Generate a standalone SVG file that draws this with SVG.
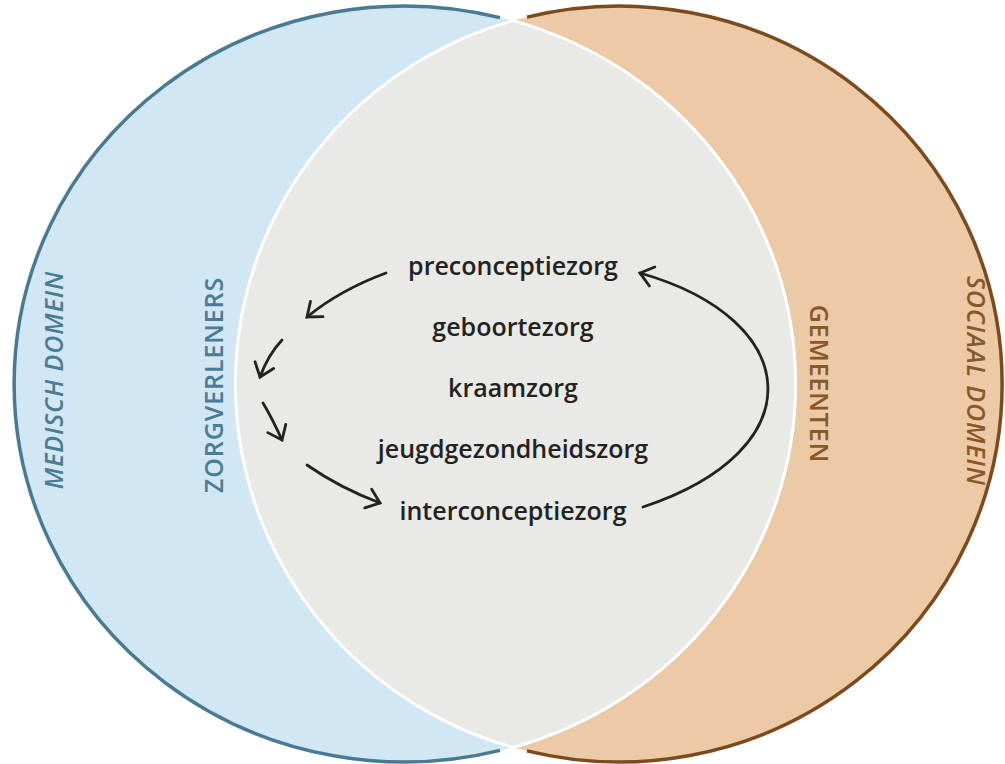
<svg xmlns="http://www.w3.org/2000/svg" width="1005" height="764" viewBox="0 0 1005 764">
<defs>
<style>
.lbl{font-family:"Open Sans","Liberation Sans",sans-serif;font-size:25px;font-weight:600;text-anchor:middle;letter-spacing:0.9px}
.blue{fill:#4a7c95}
.brown{fill:#87582a}
.it{font-style:italic}
.item{font-family:"Open Sans","Liberation Sans",sans-serif;font-size:25px;font-weight:600;fill:#222;text-anchor:middle}
.arr{fill:none;stroke:#222;stroke-width:2.8;stroke-linecap:round;marker-end:url(#ah)}
</style>
<marker id="ah" markerUnits="userSpaceOnUse" viewBox="-16 -12 20 24" markerWidth="20" markerHeight="24" refX="0" refY="0" orient="auto">
<path d="M-12.6,-9.9 L0,0 L-12.6,9.9" fill="none" stroke="#222" stroke-width="2.8" stroke-linecap="round" stroke-linejoin="miter"/>
</marker>
</defs>
<rect width="1005" height="764" fill="#ffffff"/>
<g id="medisch">
<ellipse cx="404" cy="384" rx="390" ry="378" fill="#d1e7f4"/>
<path d="M500,17.6 A390,378 0 1 0 500,750.4" fill="none" stroke="#487a92" stroke-width="3.5"/>
</g>
<g id="sociaal">
<ellipse cx="619" cy="384" rx="383" ry="378" fill="#ebcaa5"/>
<path d="M527,17.1 A383,378 0 1 1 527,750.9" fill="none" stroke="#7b4b1f" stroke-width="3.5"/>
</g>
<g id="overlap">
<path d="M513,20.6 A383,378 0 0 0 513,747.4 A390,378 0 0 0 513,20.6 Z" fill="#e9e9e5" stroke="#ffffff" stroke-width="3"/>
</g>
<g id="labels">
<text class="lbl blue it" transform="translate(63,380) rotate(-90)">MEDISCH DOMEIN</text>
<text class="lbl blue" transform="translate(223,385) rotate(-90)">ZORGVERLENERS</text>
<text class="lbl brown" transform="translate(810,384) rotate(90)">GEMEENTEN</text>
<text class="lbl brown it" transform="translate(967,381) rotate(90)">SOCIAAL DOMEIN</text>
</g>
<g id="items">
<text class="item" x="513" y="275">preconceptiezorg</text>
<text class="item" x="513" y="336">geboortezorg</text>
<text class="item" x="513" y="397">kraamzorg</text>
<text class="item" x="513" y="458">jeugdgezondheidszorg</text>
<text class="item" x="513" y="520">interconceptiezorg</text>
</g>
<g id="connectors">
<path class="arr" d="M386,273 Q340,290 307,317"/>
<path class="arr" d="M282,340 Q268,355 260,377"/>
<path class="arr" d="M263,403 Q272,418 282,440"/>
<path class="arr" d="M307,465 Q340,488 380,503"/>
<path class="arr" d="M643,507 C815,450 805,320 640,273"/>
</g>
</svg>
